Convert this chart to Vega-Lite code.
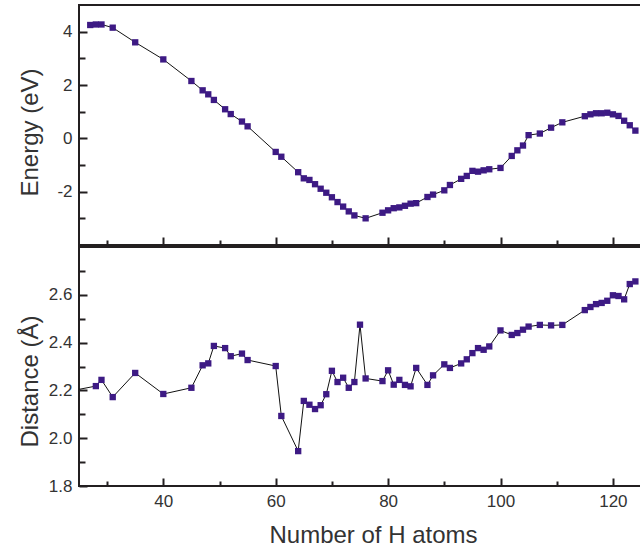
{
  "$schema": "https://vega.github.io/schema/vega-lite/v6.json",
  "autosize": {"type": "pad"},
  "padding": {"left": 17, "top": 4, "right": 0, "bottom": 5},
  "spacing": -3,
  "background": "white",
  "config": {
    "view": {"stroke": "#231f20", "strokeWidth": 2},
    "font": "Liberation Sans",
    "axis": {
      "grid": false,
      "domain": false,
      "tickColor": "#231f20",
      "tickWidth": 2,
      "labelFont": "Liberation Sans",
      "labelFontSize": 17,
      "labelColor": "#333333",
      "labelPadding": 15,
      "titleFont": "Liberation Sans",
      "titleFontSize": 24,
      "titleFontWeight": "normal",
      "titleColor": "#333333"
    }
  },
  "datasets": {
    "energy": [
      {"n": 27, "e": 4.25}, {"n": 28, "e": 4.27}, {"n": 29, "e": 4.27}, {"n": 31, "e": 4.15},
      {"n": 35, "e": 3.60}, {"n": 40, "e": 2.96}, {"n": 45, "e": 2.15}, {"n": 47, "e": 1.80},
      {"n": 48, "e": 1.65}, {"n": 49, "e": 1.44}, {"n": 51, "e": 1.09}, {"n": 52, "e": 0.91},
      {"n": 54, "e": 0.63}, {"n": 55, "e": 0.45}, {"n": 60, "e": -0.51}, {"n": 61, "e": -0.69},
      {"n": 64, "e": -1.27}, {"n": 65, "e": -1.50}, {"n": 66, "e": -1.56}, {"n": 67, "e": -1.72},
      {"n": 68, "e": -1.89}, {"n": 69, "e": -2.04}, {"n": 70, "e": -2.21}, {"n": 71, "e": -2.39},
      {"n": 72, "e": -2.56}, {"n": 73, "e": -2.74}, {"n": 74, "e": -2.89}, {"n": 76, "e": -3.00},
      {"n": 79, "e": -2.79}, {"n": 80, "e": -2.70}, {"n": 81, "e": -2.62}, {"n": 82, "e": -2.59},
      {"n": 83, "e": -2.53}, {"n": 84, "e": -2.45}, {"n": 85, "e": -2.43}, {"n": 87, "e": -2.20},
      {"n": 88, "e": -2.11}, {"n": 90, "e": -1.95}, {"n": 91, "e": -1.75}, {"n": 93, "e": -1.52},
      {"n": 94, "e": -1.41}, {"n": 95, "e": -1.22}, {"n": 96, "e": -1.25}, {"n": 97, "e": -1.20},
      {"n": 98, "e": -1.16}, {"n": 100, "e": -1.11}, {"n": 102, "e": -0.66}, {"n": 103, "e": -0.45},
      {"n": 104, "e": -0.27}, {"n": 105, "e": 0.12}, {"n": 107, "e": 0.18}, {"n": 109, "e": 0.40},
      {"n": 111, "e": 0.60}, {"n": 115, "e": 0.83}, {"n": 116, "e": 0.90}, {"n": 117, "e": 0.94},
      {"n": 118, "e": 0.94}, {"n": 119, "e": 0.96}, {"n": 120, "e": 0.90}, {"n": 121, "e": 0.84},
      {"n": 122, "e": 0.66}, {"n": 123, "e": 0.49}, {"n": 124, "e": 0.29}
    ],
    "distance": [
      {"n": 24, "d": 2.20}, {"n": 28, "d": 2.218}, {"n": 29, "d": 2.244}, {"n": 31, "d": 2.172},
      {"n": 35, "d": 2.273}, {"n": 40, "d": 2.185}, {"n": 45, "d": 2.211}, {"n": 47, "d": 2.305},
      {"n": 48, "d": 2.313}, {"n": 49, "d": 2.386}, {"n": 51, "d": 2.377}, {"n": 52, "d": 2.343},
      {"n": 54, "d": 2.354}, {"n": 55, "d": 2.327}, {"n": 60, "d": 2.302}, {"n": 61, "d": 2.093},
      {"n": 64, "d": 1.946}, {"n": 65, "d": 2.156}, {"n": 66, "d": 2.140}, {"n": 67, "d": 2.122},
      {"n": 68, "d": 2.138}, {"n": 69, "d": 2.184}, {"n": 70, "d": 2.282}, {"n": 71, "d": 2.235},
      {"n": 72, "d": 2.253}, {"n": 73, "d": 2.211}, {"n": 74, "d": 2.235}, {"n": 75, "d": 2.475},
      {"n": 76, "d": 2.250}, {"n": 79, "d": 2.239}, {"n": 80, "d": 2.284}, {"n": 81, "d": 2.224},
      {"n": 82, "d": 2.244}, {"n": 83, "d": 2.223}, {"n": 84, "d": 2.217}, {"n": 85, "d": 2.294},
      {"n": 87, "d": 2.223}, {"n": 88, "d": 2.263}, {"n": 90, "d": 2.309}, {"n": 91, "d": 2.294},
      {"n": 93, "d": 2.313}, {"n": 94, "d": 2.330}, {"n": 95, "d": 2.356}, {"n": 96, "d": 2.377},
      {"n": 97, "d": 2.370}, {"n": 98, "d": 2.384}, {"n": 100, "d": 2.451}, {"n": 102, "d": 2.432},
      {"n": 103, "d": 2.440}, {"n": 104, "d": 2.454}, {"n": 105, "d": 2.467}, {"n": 107, "d": 2.474},
      {"n": 109, "d": 2.472}, {"n": 111, "d": 2.474}, {"n": 115, "d": 2.536}, {"n": 116, "d": 2.549},
      {"n": 117, "d": 2.561}, {"n": 118, "d": 2.566}, {"n": 119, "d": 2.575}, {"n": 120, "d": 2.598},
      {"n": 121, "d": 2.595}, {"n": 122, "d": 2.581}, {"n": 123, "d": 2.645}, {"n": 124, "d": 2.656}
    ]
  },
  "vconcat": [
    {
      "width": 562,
      "height": 240,
      "data": {"name": "energy"},
      "encoding": {
        "x": {
          "field": "n", "type": "quantitative",
          "scale": {"domain": [25, 125], "nice": false, "zero": false},
          "axis": {
            "title": null, "labels": false,
            "values": [30, 40, 50, 60, 70, 80, 90, 100, 110, 120],
            "tickSize": {"condition": {"test": "datum.value % 20 === 0", "value": -8}, "value": -5}
          }
        },
        "y": {
          "field": "e", "type": "quantitative",
          "scale": {"domain": [-4, 5], "nice": false, "zero": false},
          "axis": {
            "title": "Energy (eV)",
            "values": [-3, -2, -1, 0, 1, 2, 3, 4],
            "labelExpr": "datum.value % 2 === 0 ? '' + datum.value : ''",
            "tickSize": {"condition": {"test": "datum.value % 2 === 0", "value": -8}, "value": -6},
            "titleX": -49, "titleY": 127, "titleBaseline": "middle", "titleAngle": 270
          }
        }
      },
      "layer": [
        {"mark": {"type": "line", "color": "#111111", "strokeWidth": 1, "clip": true}},
        {"mark": {"type": "square", "size": 40, "color": "#3d1a84", "opacity": 1, "clip": true}}
      ]
    },
    {
      "width": 562,
      "height": 239,
      "data": {"name": "distance"},
      "encoding": {
        "x": {
          "field": "n", "type": "quantitative",
          "scale": {"domain": [25, 125], "nice": false, "zero": false},
          "axis": {
            "title": "Number of H atoms",
            "values": [30, 40, 50, 60, 70, 80, 90, 100, 110, 120],
            "labelExpr": "datum.value % 20 === 0 ? '' + datum.value : ''",
            "tickSize": {"condition": {"test": "datum.value % 20 === 0", "value": -8}, "value": -5},
            "titleX": 294, "titleY": 49, "titleBaseline": "middle"
          }
        },
        "y": {
          "field": "d", "type": "quantitative",
          "scale": {"domain": [1.8, 2.8], "nice": false, "zero": false},
          "axis": {
            "title": "Distance (Å)",
            "values": [1.8, 1.9, 2.0, 2.1, 2.2, 2.3, 2.4, 2.5, 2.6, 2.7],
            "labelExpr": "round(datum.value * 10) % 2 === 0 ? format(datum.value, '.1f') : ''",
            "tickSize": {"condition": {"test": "round(datum.value * 10) % 2 === 0", "value": -8}, "value": -6},
            "titleX": -49, "titleY": 134, "titleBaseline": "middle", "titleAngle": 270
          }
        }
      },
      "layer": [
        {"mark": {"type": "line", "color": "#111111", "strokeWidth": 1, "clip": true}},
        {"mark": {"type": "square", "size": 40, "color": "#3d1a84", "opacity": 1, "clip": true}}
      ]
    }
  ]
}
